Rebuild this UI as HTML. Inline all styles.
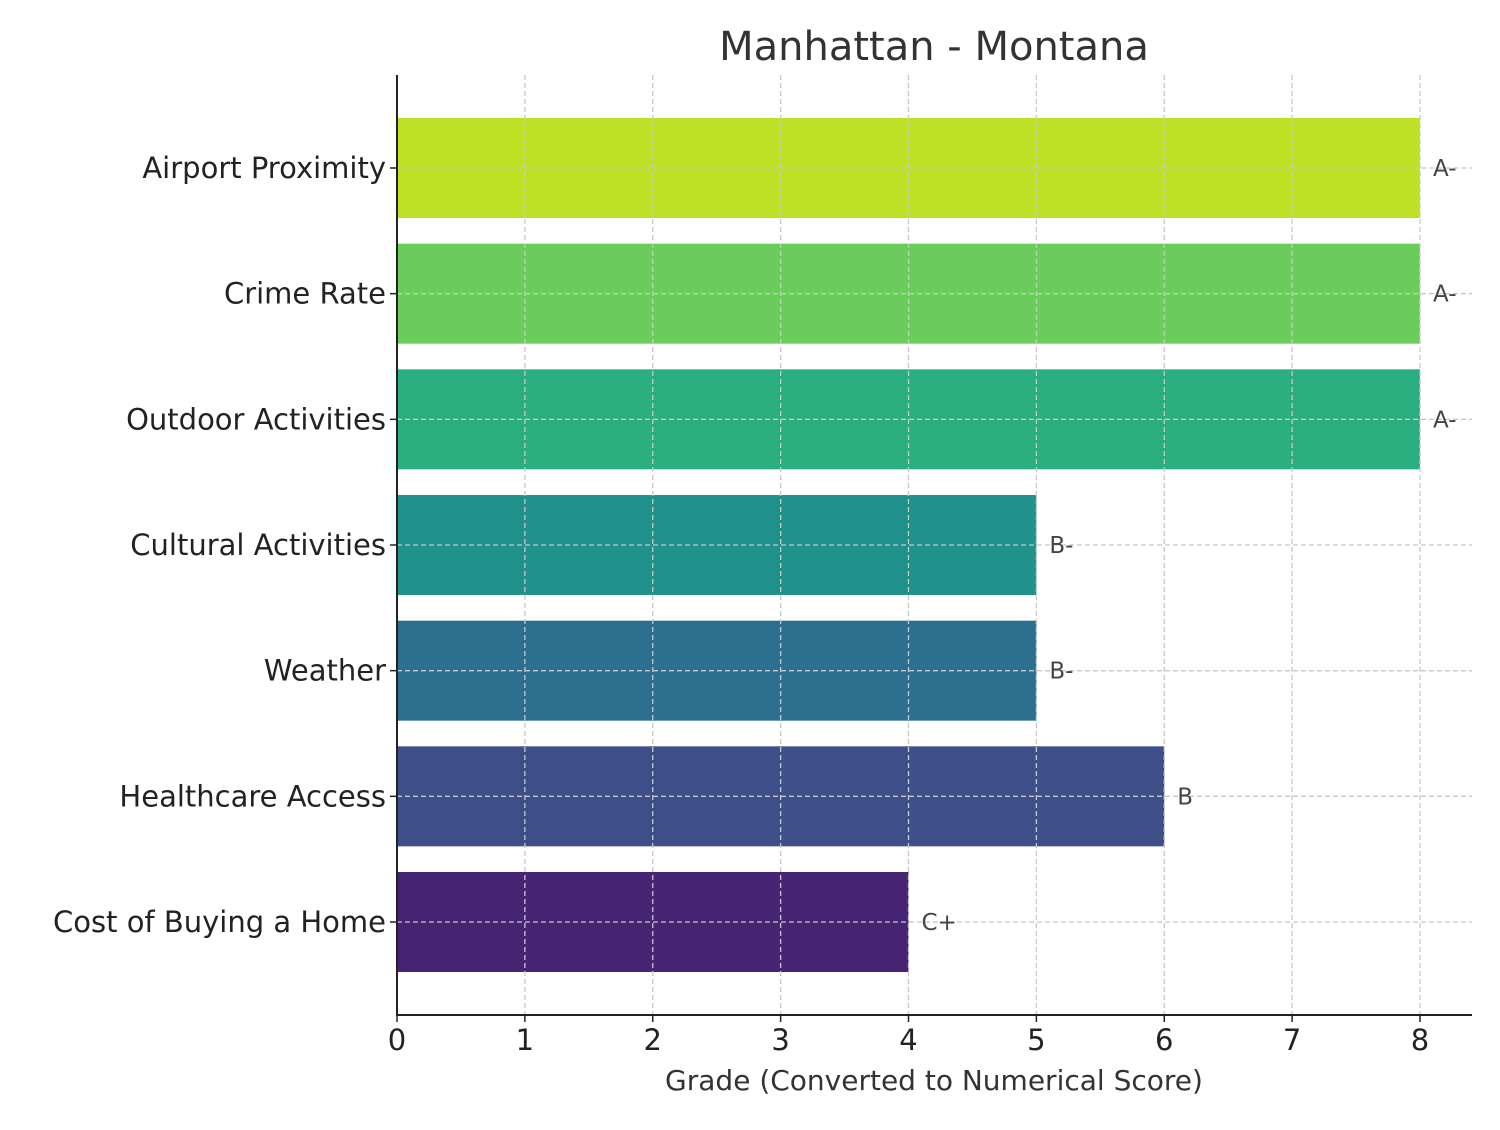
<!DOCTYPE html>
<html><head><meta charset="utf-8"><style>
html,body{margin:0;padding:0;background:#fff;}
svg text{font-family:"DejaVu Sans","Liberation Sans",sans-serif;}
</style></head><body>
<svg id="chart" width="1500" height="1125" xmlns="http://www.w3.org/2000/svg">
<rect width="1500" height="1125" fill="#fff"/>
<text x="934" y="60" font-size="40" fill="#333" text-anchor="middle">Manhattan - Montana</text>
<g id="bars"></g>
<g id="grid"></g>
<g id="labels"></g>
<line x1="397" y1="75" x2="397" y2="1015" stroke="#222" stroke-width="2"/>
<line x1="396" y1="1015" x2="1472" y2="1015" stroke="#222" stroke-width="2"/>
<text x="934" y="1090" font-size="28" fill="#333" text-anchor="middle">Grade (Converted to Numerical Score)</text>
</svg>
<script>
const categories = ["Airport Proximity","Crime Rate","Outdoor Activities","Cultural Activities","Weather","Healthcare Access","Cost of Buying a Home"];
const scores = [8,8,8,5,5,6,4];
const grades = ["A-","A-","A-","B-","B-","B","C+"];
const colors = ["#bfe125","#6acd5b","#2aae7f","#21918c","#2d6f8e","#3e4e89","#472374"];
const xTicks = [0,1,2,3,4,5,6,7,8];
const NS="http://www.w3.org/2000/svg";
const x0=397, xUnit=(1420-397)/8;
const xs=v=>x0+v*xUnit;
const yTop=168, yStep=(922-168)/6, barH=100;
const ys=i=>yTop+i*yStep;
function mk(tag,attrs,parent){const e=document.createElementNS(NS,tag);for(const k in attrs)e.setAttribute(k,attrs[k]);parent.appendChild(e);return e;}
const gb=document.getElementById('bars'),gg=document.getElementById('grid'),gl=document.getElementById('labels');
categories.forEach((c,i)=>{
  const r=mk('rect',{x:xs(0),y:ys(i)-barH/2,width:xs(scores[i])-xs(0),height:barH,fill:colors[i]},gb);
  
  
  const gl2=mk('line',{x1:397,x2:1472,y1:ys(i),y2:ys(i),stroke:'#c8c8c8','stroke-width':1.3,'stroke-dasharray':'5,3'},gg);
  
  
  const tk=mk('line',{x1:390,x2:397,y1:ys(i),y2:ys(i),stroke:'#222','stroke-width':1.5},gl);
  
  
  const t=mk('text',{x:386,y:ys(i)+10,'font-size':29,fill:'#222','text-anchor':'end'},gl);
  t.textContent=c;
  
  
  const v=mk('text',{x:xs(scores[i])+13,y:ys(i)+8,'font-size':23,fill:'#444'},gl);
  v.textContent=grades[i];
  
  
});
xTicks.forEach(v=>{
  const l=mk('line',{x1:xs(v),x2:xs(v),y1:75,y2:1015,stroke:'#c8c8c8','stroke-width':1.3,'stroke-dasharray':'5,3'},gg);
  
  
  const tk=mk('line',{x1:xs(v),x2:xs(v),y1:1015,y2:1022,stroke:'#222','stroke-width':1.5},gl);
  
  
  const t=mk('text',{x:xs(v),y:1050,'font-size':29,fill:'#222','text-anchor':'middle'},gl);
  t.textContent=v;
  
  
});
</script>
</body></html>
